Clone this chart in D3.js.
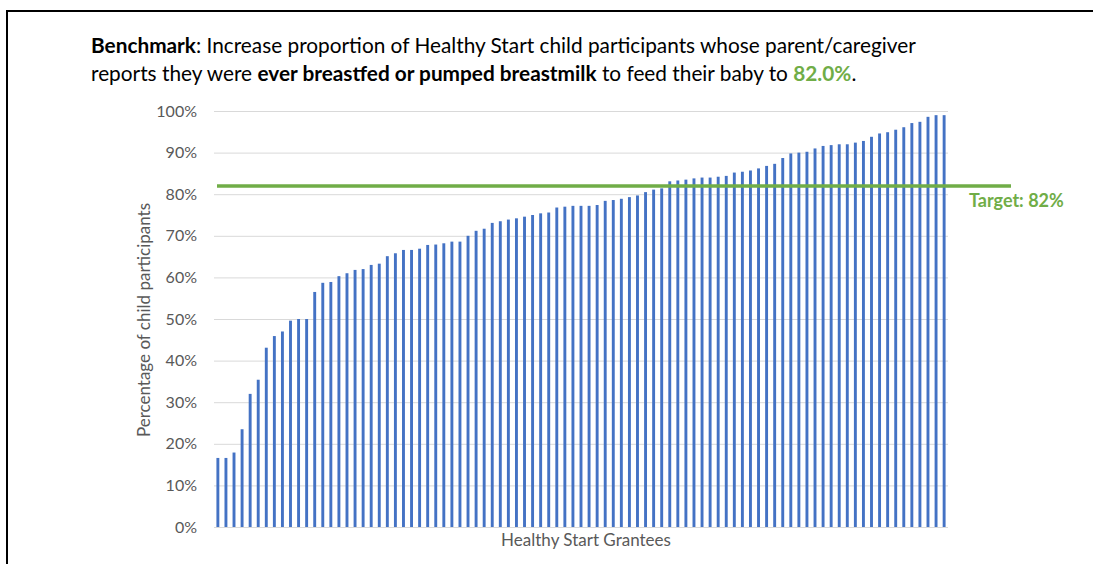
<!DOCTYPE html>
<html>
<head>
<meta charset="utf-8">
<script src="https://cdn.jsdelivr.net/npm/d3@7"></script>
<style>
  body { margin: 0; background: #fff; }
  svg { display: block; }
</style>
</head>
<body>
<svg id="chart"></svg>
<script>
// values, sorted low to high (one bar per grantee)
var grantees = d3.range(1, 92)
var percents = [
    16.6, 16.6, 17.9, 23.5, 32.0, 35.4, 43.1, 45.9, 47.0, 49.6,
    50.0, 50.0, 56.5, 58.7, 58.9, 60.3, 61.0, 61.8, 62.0, 63.0,
    63.3, 65.1, 65.8, 66.6, 66.6, 66.9, 67.8, 67.9, 68.2, 68.6,
    68.6, 70.0, 71.2, 71.7, 73.1, 73.5, 73.9, 74.2, 74.6, 75.0,
    75.4, 75.6, 76.8, 77.0, 77.2, 77.2, 77.2, 77.4, 78.4, 78.6,
    78.9, 79.3, 79.7, 80.5, 81.1, 81.4, 83.1, 83.3, 83.5, 83.8,
    84.0, 84.0, 84.2, 84.4, 85.2, 85.4, 85.7, 86.2, 86.8, 87.3,
    88.7, 89.8, 90.0, 90.2, 91.0, 91.6, 91.8, 92.0, 92.0, 92.4,
    92.8, 93.8, 94.6, 94.9, 95.5, 96.1, 97.1, 97.4, 98.6, 99.0,
    99.0
]
var yTicks = [0, 10, 20, 30, 40, 50, 60, 70, 80, 90, 100]
var target = 82

var width = 1093, height = 564
var font = "Lato, 'Open Sans', sans-serif"
var grey = "#595959"
var green = "#70AD47"

var svg = d3.select("#chart")
    .attr("width", width)
    .attr("height", height)

// frame (top and left edges only)
svg.append("path")
    .attr("d", "M7," + height + "V11H" + width)
    .attr("fill", "none")
    .attr("stroke", "#000")
    .attr("stroke-width", 2)

// title
var title = svg.append("text")
    .attr("font-family", font)
    .attr("font-size", 20.8)
    .attr("fill", "#000")

var line1 = title.append("tspan").attr("x", 91).attr("y", 53)
line1.append("tspan").attr("font-weight", "bold").text("Benchmark")
line1.append("tspan").text(": Increase proportion of Healthy Start child participants whose parent/caregiver")

var line2 = title.append("tspan").attr("x", 91).attr("y", 81)
line2.append("tspan").text("reports they were ")
line2.append("tspan").attr("font-weight", "bold").text("ever breastfed or pumped breastmilk")
line2.append("tspan").text(" to feed their baby to ")
line2.append("tspan").attr("font-weight", "bold").attr("fill", green).text("82.0%")
line2.append("tspan").text(".")

var x = d3.scaleBand()
    .domain(grantees)
    .range([214, 948])
    .paddingInner(0.64)
    .paddingOuter(0.3)

var y = d3.scaleLinear()
    .domain([0, 100])
    .range([527, 111])

// gridlines
svg.append("g")
    .selectAll("line")
    .data(yTicks)
    .enter()
    .append("line")
    .attr("x1", 214)
    .attr("x2", 948)
    .attr("y1", function (d) { return y(d) + 0.5 })
    .attr("y2", function (d) { return y(d) + 0.5 })
    .attr("stroke", "#d9d9d9")
    .attr("stroke-width", 1)

// y axis labels
var yAxis = svg.append("g")
    .attr("transform", "translate(214,0)")
    .call(d3.axisLeft(y).tickValues(yTicks).tickSize(0).tickPadding(17).tickFormat(function (d) { return d + "%" }))
yAxis.select(".domain").remove()
yAxis.selectAll("text")
    .attr("font-family", font)
    .attr("font-size", 16)
    .attr("fill", grey)

// bars
svg.append("g")
    .selectAll("rect")
    .data(percents)
    .enter()
    .append("rect")
    .attr("x", function (d, i) { return x(grantees[i]) })
    .attr("width", x.bandwidth())
    .attr("y", function (d) { return y(d) })
    .attr("height", function (d) { return y(0) - y(d) })
    .attr("fill", "#4472C4")

// target line
svg.append("line")
    .attr("x1", 217)
    .attr("x2", 1011)
    .attr("y1", y(target))
    .attr("y2", y(target))
    .attr("stroke", green)
    .attr("stroke-width", 3.5)

svg.append("text")
    .attr("x", 969)
    .attr("y", 207)
    .attr("font-family", font)
    .attr("font-size", 18)
    .attr("font-weight", "bold")
    .attr("fill", green)
    .text("Target: " + target + "%")

// axis titles
svg.append("text")
    .attr("x", 586)
    .attr("y", 546)
    .attr("text-anchor", "middle")
    .attr("font-family", font)
    .attr("font-size", 17)
    .attr("fill", grey)
    .text("Healthy Start Grantees")

svg.append("text")
    .attr("transform", "translate(150,320) rotate(-90)")
    .attr("text-anchor", "middle")
    .attr("font-family", font)
    .attr("font-size", 17)
    .attr("fill", grey)
    .text("Percentage of child participants")
</script>
</body>
</html>
